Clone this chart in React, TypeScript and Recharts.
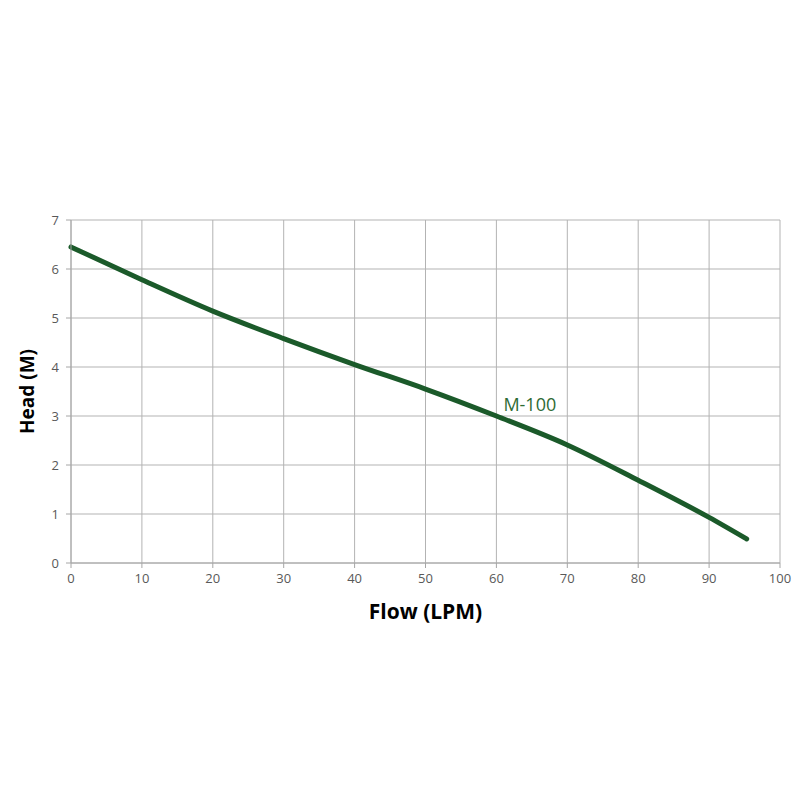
import { LineChart, Line, XAxis, YAxis, CartesianGrid, ReferenceDot } from 'recharts';

const flow = [0, 10, 20, 30, 40, 50, 60, 70, 80, 90, 95.3];
const head = [6.45, 5.78, 5.14, 4.58, 4.05, 3.55, 3.0, 2.41, 1.69, 0.93, 0.49];
const xTicks = [0, 10, 20, 30, 40, 50, 60, 70, 80, 90, 100];
const yTicks = [0, 1, 2, 3, 4, 5, 6, 7];
const seriesName = 'M-100';
const labelAt = { flow: 60, head: 3.0 };

const data = flow.map((f, i) => ({ flow: f, head: head[i] }));

const font = '"Open Sans", Calibri, sans-serif';
const tickStyle = { fill: '#595959', fontSize: 13, fontFamily: font };

const YTitle = ({ viewBox }: any) => {
  const cx = 27;
  const cy = viewBox.y + viewBox.height / 2;
  return (
    <text x={cx} y={cy} transform={`rotate(-90 ${cx} ${cy})`} textAnchor="middle" dominantBaseline="central"
      fontFamily={font} fontWeight="bold" fontSize={19} fill="#000">
      Head (M)
    </text>
  );
};

const XTitle = ({ viewBox }: any) => (
  <text x={viewBox.x + viewBox.width / 2} y={611} textAnchor="middle" dominantBaseline="central"
    fontFamily={font} fontWeight="bold" fontSize={21} fill="#000">
    Flow (LPM)
  </text>
);

const SeriesLabel = ({ viewBox }: any) => (
  <text x={viewBox.x + 7} y={viewBox.y - 5} fontFamily={font} fontSize={18} fill="#2e6b35">
    {seriesName}
  </text>
);

export default function App() {
  return (
    <div style={{ position: 'absolute', left: 0, top: 0, width: 800, height: 800, background: '#fff' }}>
      <LineChart width={800} height={800} data={data} margin={{ top: 220, right: 20, bottom: 0, left: 0 }}>
        <CartesianGrid stroke="#b3b3b3" strokeWidth={1} />
        <XAxis
          dataKey="flow"
          type="number"
          domain={[0, 100]}
          ticks={xTicks}
          height={237}
          stroke="#a6a6a6"
          tickSize={5}
          tickMargin={6}
          tick={tickStyle}
          label={<XTitle />}
        />
        <YAxis
          type="number"
          domain={[0, 7]}
          ticks={yTicks}
          width={71}
          stroke="#a6a6a6"
          tickSize={5}
          tickMargin={7}
          tick={tickStyle}
          label={<YTitle />}
        />
        <Line
          dataKey="head"
          type="monotone"
          stroke="#1b5a2a"
          strokeWidth={5}
          strokeLinecap="round"
          dot={false}
          isAnimationActive={false}
        />
        <ReferenceDot x={labelAt.flow} y={labelAt.head} r={0} fill="none" stroke="none" label={<SeriesLabel />} />
      </LineChart>
    </div>
  );
}
